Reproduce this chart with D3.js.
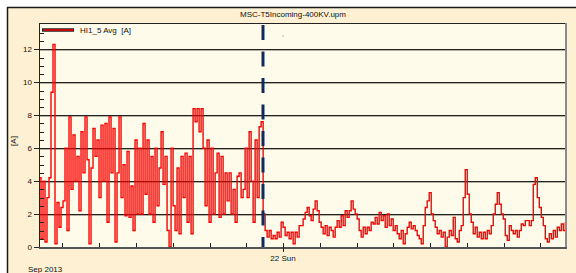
<!DOCTYPE html>
<html>
<head>
<meta charset="utf-8">
<script src="https://cdn.jsdelivr.net/npm/d3@7"></script>
<style>
  body { margin: 0; background: #fff; }
  svg text { font-family: "Liberation Sans", Arial, sans-serif; }
</style>
</head>
<body>
<div id="chart"></div>
<script>
// HI1_5 Avg [A], one value per logger step
var currentBefore = [
  4.2, 0.5, 4.0, 0.3, 3.0, 4.2, 9.4, 12.3, 0.2, 2.7, 1.2, 2.4, 2.8, 6.0, 1.0, 7.9,
  3.5, 6.8, 4.0, 5.5, 2.2, 7.0, 4.5, 7.9, 5.3, 0.2, 4.8, 7.2, 5.5, 6.5, 3.0, 7.4,
  4.0, 7.5, 1.5, 7.9, 4.5, 7.2, 0.3, 4.5, 7.9, 3.0, 5.0, 1.9, 5.8, 1.8, 3.7, 1.0,
  6.5, 2.0, 6.0, 2.0, 7.5, 3.2, 6.5, 2.0, 5.5, 1.5, 6.0, 2.5, 4.8, 7.0, 3.8, 5.5,
  1.0, 0.0, 6.0, 2.5, 1.0, 4.8, 0.8, 5.5, 3.0, 5.7, 1.5, 5.5, 0.8, 8.4, 7.6, 8.4,
  7.0, 8.4, 6.0, 2.5, 6.5, 1.5, 6.0, 2.0, 4.5, 5.7, 1.8, 5.5, 2.0, 4.5, 2.8, 4.5,
  2.0, 3.5, 1.5, 4.3, 4.5, 3.0, 3.5, 6.0, 3.0, 7.0, 4.0, 1.5, 6.5, 3.0, 7.3, 7.6,
  2.0
];
var currentAfter = [
  1.0, 0.6, 1.0, 0.5, 0.7, 0.5, 0.9, 0.6, 1.5, 1.2, 0.7, 0.9, 0.5, 0.9, 0.2, 0.9,
  0.6, 1.3, 1.3, 1.7, 2.1, 2.4, 1.9, 1.6, 2.3, 2.8, 2.2, 1.5, 1.2, 0.8, 1.3, 0.7,
  1.2, 1.0, 0.6, 1.2, 1.6, 1.2, 1.9, 1.3, 2.2, 1.8, 2.2, 2.8, 2.3, 2.0, 1.7, 1.0,
  0.6, 1.2, 0.8, 1.2, 1.0, 1.5, 1.4, 1.8, 1.4, 2.1, 1.6, 1.9, 1.2, 2.0, 1.3, 1.7,
  1.0, 1.3, 0.8, 0.5, 1.0, 0.2, 0.8, 1.2, 1.5, 1.1, 1.3,
  1.0, 0.7, 0.5, 0.2, 1.3, 2.4, 2.8, 3.3, 2.0, 1.6, 1.2, 0.8, 1.0, 0.6, 0.9, 0.0,
  0.6, 1.0, 0.7, 1.8, 0.5, 0.3, 1.0, 1.3, 3.0, 4.7, 3.2, 2.0, 1.5, 0.8, 1.2, 0.6,
  0.9, 0.5, 0.9, 0.5, 1.0, 0.8, 1.3, 2.0, 2.6, 3.3, 2.6, 2.0, 1.7, 0.7, 0.4, 1.3,
  1.0, 0.8, 1.0, 0.6, 1.0, 1.4, 1.3, 1.6, 1.6, 1.3, 1.6, 3.8, 4.2, 3.0, 2.4, 1.8,
  1.3, 0.5, 0.3, 0.8, 0.5, 1.0, 0.6, 1.2, 1.0, 1.4, 1.0, 1.5
];
var yTicks = [0, 2, 4, 6, 8, 10, 12];
var seriesName = "HI1_5 Avg  [A]";
var fileTitle = "MSC-T5Incoming-400KV.upm";

var startTime = new Date(2013, 8, 21, 4, 5);
var endTime = new Date(2013, 8, 22, 23, 1);
var markerTime = new Date(2013, 8, 21, 22, 22);
var stepMinutes = 9.8;

var allValues = currentBefore.concat(currentAfter);
var data = allValues.map(function (v, i) {
  return { t: new Date(startTime.getTime() + i * stepMinutes * 60000), v: v };
});

var width = 576, height = 273;
var plotL = 39, plotR = 565, plotT = 23, plotB = 247;

var svg = d3.select("#chart").append("svg")
    .attr("width", width)
    .attr("height", height);

var x = d3.scaleTime().domain([startTime, endTime]).range([plotL, plotR]);
var y = d3.scaleLinear().domain([0, 13.6]).range([plotB, plotT]);

// frame
svg.append("rect").attr("x", 7).attr("y", 7).attr("width", width - 7).attr("height", height - 7)
    .attr("fill", "#fdf0d3");
svg.append("line").attr("x1", 7).attr("x2", width).attr("y1", 7.5).attr("y2", 7.5)
    .attr("stroke", "#1a1a1a").attr("stroke-width", 1.5);
svg.append("line").attr("x1", 7.5).attr("x2", 7.5).attr("y1", 7).attr("y2", height)
    .attr("stroke", "#1a1a1a").attr("stroke-width", 1.5);

svg.append("text").attr("x", 293).attr("y", 17)
    .attr("text-anchor", "middle").attr("font-size", 8).attr("fill", "#111")
    .text(fileTitle);

// plot area
svg.append("rect").attr("x", plotL).attr("y", plotT).attr("width", plotR - plotL).attr("height", plotB - plotT)
    .attr("fill", "#fffbea");

svg.append("defs").append("clipPath").attr("id", "plotclip")
  .append("rect").attr("x", plotL + 1).attr("y", plotT).attr("width", plotR - plotL - 1).attr("height", plotB - plotT);

// grid
var gridVals = yTicks.filter(function (d) { return d > 0; });
var grid = svg.append("g");
grid.selectAll("line.g1").data(gridVals)
  .enter().append("line")
    .attr("x1", plotL).attr("x2", plotR)
    .attr("y1", function (d) { return Math.round(y(d)) + 0.5; })
    .attr("y2", function (d) { return Math.round(y(d)) + 0.5; })
    .attr("stroke", "#222");
grid.selectAll("line.g2").data(gridVals)
  .enter().append("line")
    .attr("x1", plotL).attr("x2", plotR)
    .attr("y1", function (d) { return Math.round(y(d)) + 1.5; })
    .attr("y2", function (d) { return Math.round(y(d)) + 1.5; })
    .attr("stroke", "#b5b0a0");
svg.append("line").attr("x1", plotL).attr("x2", plotR).attr("y1", plotT + 0.5).attr("y2", plotT + 0.5)
    .attr("stroke", "#222");
svg.append("line").attr("x1", plotR + 1).attr("x2", plotR + 1).attr("y1", plotT).attr("y2", plotB + 2)
    .attr("stroke", "#8a8a8a").attr("stroke-width", 2);

// data
var line = d3.line()
    .x(function (d) { return x(d.t); })
    .y(function (d) { return y(d.v); })
    .curve(d3.curveStepAfter);

svg.append("path")
    .datum(data)
    .attr("clip-path", "url(#plotclip)")
    .attr("fill", "none")
    .attr("stroke", "#ff0000")
    .attr("stroke-width", 1.4)
    .attr("d", line);

// marker
svg.append("line")
    .attr("x1", x(markerTime)).attr("x2", x(markerTime))
    .attr("y1", 25).attr("y2", plotB)
    .attr("stroke", "#102a5e").attr("stroke-width", 3)
    .attr("stroke-dasharray", "15,11.5");

svg.append("circle").attr("cx", 283).attr("cy", 36).attr("r", 0.6).attr("fill", "#777");

// y axis
svg.append("line").attr("x1", plotL + 0.5).attr("x2", plotL + 0.5).attr("y1", plotT).attr("y2", plotB)
    .attr("stroke", "#222");
var minor = d3.range(0, 13.5, 0.5).filter(function (d) { return d % 2 !== 0; });
svg.selectAll("line.minor").data(minor).enter().append("line")
    .attr("x1", plotL).attr("x2", plotL + 5)
    .attr("y1", function (d) { return Math.round(y(d)) + 0.5; })
    .attr("y2", function (d) { return Math.round(y(d)) + 0.5; })
    .attr("stroke", "#222");
svg.selectAll("line.major").data(yTicks).enter().append("line")
    .attr("x1", plotL - 5).attr("x2", plotL)
    .attr("y1", function (d) { return Math.round(y(d)) + 0.5; })
    .attr("y2", function (d) { return Math.round(y(d)) + 0.5; })
    .attr("stroke", "#222");
svg.selectAll("text.ytick").data(yTicks).enter().append("text")
    .attr("x", plotL - 7)
    .attr("y", function (d) { return y(d) + 3; })
    .attr("text-anchor", "end").attr("font-size", 8).attr("fill", "#111")
    .text(function (d) { return d; });

svg.append("text")
    .attr("transform", "translate(16,141) rotate(-90)")
    .attr("text-anchor", "middle").attr("font-size", 8).attr("fill", "#111")
    .text("[A]");

// x axis
svg.append("line").attr("x1", plotL).attr("x2", plotR + 2).attr("y1", plotB + 1).attr("y2", plotB + 1)
    .attr("stroke", "#555").attr("stroke-width", 2);
var xTicks = x.ticks(d3.timeHour.every(3));
svg.selectAll("line.xtick").data(xTicks).enter().append("line")
    .attr("x1", function (d) { return Math.round(x(d)) + 0.5; })
    .attr("x2", function (d) { return Math.round(x(d)) + 0.5; })
    .attr("y1", plotB - 4)
    .attr("y2", function (d) { return d.getHours() === 0 ? plotB + 5 : plotB; })
    .attr("stroke", "#222");
svg.selectAll("text.xtick").data(xTicks.filter(function (d) { return d.getHours() === 0; }))
  .enter().append("text")
    .attr("x", function (d) { return x(d); })
    .attr("y", 261)
    .attr("text-anchor", "middle").attr("font-size", 8).attr("fill", "#111")
    .text(d3.timeFormat("%-d %a"));
svg.append("text").attr("x", 28).attr("y", 272)
    .attr("font-size", 8).attr("fill", "#111")
    .text(d3.timeFormat("%b %Y")(startTime));

// legend
svg.append("line").attr("x1", 42).attr("x2", 74).attr("y1", 30).attr("y2", 30)
    .attr("stroke", "#222").attr("stroke-width", 3.5);
svg.append("line").attr("x1", 43).attr("x2", 73).attr("y1", 30).attr("y2", 30)
    .attr("stroke", "#ff0000").attr("stroke-width", 1.5);
svg.append("text").attr("x", 80).attr("y", 33)
    .attr("font-size", 8).attr("fill", "#111")
    .style("white-space", "pre")
    .text(seriesName);
</script>
</body>
</html>
